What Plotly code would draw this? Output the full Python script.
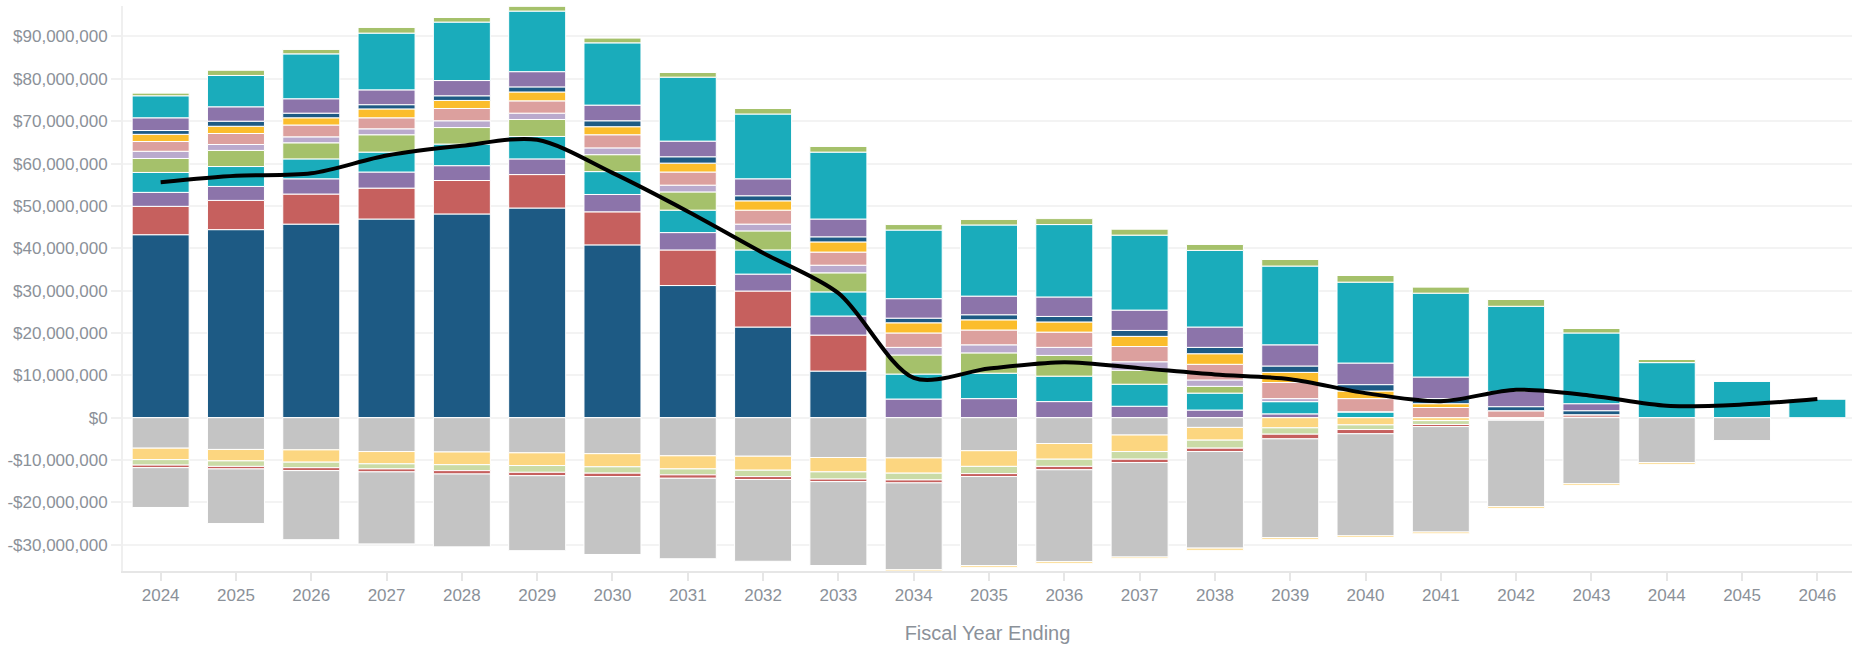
import plotly.graph_objects as go

years = [str(y) for y in range(2024, 2047)]

# Positive components ($M), bottom to top
dark_blue_a = [43.2, 44.4, 45.7, 46.9, 48.1, 49.5, 40.8, 31.2, 21.4, 11.0, 0, 0, 0, 0, 0, 0, 0, 0, 0, 0, 0, 0, 0]
red_a = [6.7, 6.9, 7.1, 7.3, 7.9, 7.9, 7.8, 8.4, 8.5, 8.5, 0, 0, 0, 0, 0, 0, 0, 0, 0, 0, 0, 0, 0]
purple_a = [3.3, 3.3, 3.6, 3.8, 3.5, 3.7, 4.1, 4.1, 4.0, 4.5, 4.4, 4.5, 3.8, 2.7, 1.8, 0.9, 0, 0, 0, 0, 0, 0, 0]
teal_a = [4.7, 4.7, 4.7, 4.7, 5.1, 5.3, 5.4, 5.3, 5.7, 5.7, 5.9, 6.0, 6.0, 5.2, 4.0, 2.9, 1.4, 0, 0, 0, 0, 0, 0]
green_a = [3.3, 3.8, 3.8, 4.1, 3.9, 4.0, 4.0, 4.3, 4.5, 4.5, 4.5, 4.8, 4.9, 3.3, 1.6, 0, 0, 0, 0, 0, 0, 0, 0]
lilac_a = [1.7, 1.4, 1.4, 1.4, 1.6, 1.5, 1.6, 1.6, 1.6, 1.8, 1.8, 1.9, 1.9, 2.0, 1.5, 0.7, 0, 0, 0, 0, 0, 0, 0]
pink_a = [2.3, 2.6, 2.8, 2.6, 2.9, 2.9, 3.1, 3.1, 3.3, 3.1, 3.4, 3.5, 3.6, 3.6, 3.7, 3.8, 3.1, 2.4, 1.65, 0.7, 0, 0, 0]
gold_a = [1.7, 1.7, 1.7, 2.1, 1.9, 2.1, 1.9, 2.1, 2.2, 2.4, 2.4, 2.4, 2.4, 2.4, 2.5, 2.4, 1.8, 0.9, 0, 0, 0, 0, 0]
dark_blue_b = [0.9, 1.2, 1.1, 1.0, 1.1, 1.2, 1.4, 1.5, 1.2, 1.2, 1.1, 1.2, 1.3, 1.4, 1.5, 1.5, 1.5, 1.2, 0.95, 0.95, 0, 0, 0]
purple_b = [3.0, 3.4, 3.4, 3.5, 3.6, 3.6, 3.7, 3.7, 4.0, 4.2, 4.6, 4.4, 4.6, 4.8, 4.8, 5.0, 5.1, 5.1, 3.6, 1.65, 0, 0, 0]
teal_b = [5.2, 7.4, 10.6, 13.4, 13.8, 14.3, 14.7, 15.1, 15.3, 15.8, 16.2, 16.8, 17.1, 17.7, 18.1, 18.6, 19.1, 19.8, 20.1, 16.7, 13.0, 8.7, 4.5]
green_b = [0.7, 1.3, 1.1, 1.4, 1.1, 1.2, 1.2, 1.1, 1.3, 1.4, 1.3, 1.3, 1.4, 1.4, 1.4, 1.6, 1.6, 1.5, 1.6, 1.1, 0.8, 0, 0]

# Negative components ($M, magnitudes), from zero downward
grey_a = [7.2, 7.5, 7.6, 8.0, 8.1, 8.3, 8.5, 9.0, 9.1, 9.4, 9.5, 7.8, 6.1, 4.1, 2.3, 0, 0, 0, 0, 0, 0, 0, 0]
cream_a = [2.7, 2.7, 2.9, 2.9, 3.0, 3.0, 3.1, 3.1, 3.3, 3.4, 3.6, 3.7, 3.7, 3.9, 3.0, 2.4, 1.7, 0.7, 0.2, 0, 0, 0, 0]
sage_a = [1.3, 1.3, 1.3, 1.2, 1.4, 1.6, 1.5, 1.4, 1.5, 1.7, 1.6, 1.7, 1.7, 1.8, 1.9, 1.5, 1.1, 0.9, 0.2, 0, 0, 0, 0]
red_neg = [0.6, 0.6, 0.7, 0.7, 0.8, 0.8, 0.8, 0.8, 0.7, 0.6, 0.7, 0.7, 0.8, 0.8, 0.8, 1.1, 1.0, 0.5, 0.2, 0, 0, 0, 0]
grey_b = [9.4, 12.9, 16.3, 17.0, 17.2, 17.7, 18.4, 19.0, 19.3, 19.8, 20.5, 21.0, 21.7, 22.3, 22.8, 23.3, 24.1, 24.9, 20.4, 15.6, 10.6, 5.4, 0]
cream_b = [0, 0, 0, 0, 0, 0, 0, 0, 0, 0, 0.3, 0.4, 0.4, 0.3, 0.5, 0.4, 0.4, 0.4, 0.4, 0.4, 0.4, 0, 0]

# Net line ($M)
net_line = [55.6, 57.1, 57.7, 61.9, 64.2, 65.6, 57.8, 48.7, 38.9, 29.4, 9.4, 11.6, 13.1, 11.7,
            10.2, 9.1, 5.8, 3.9, 6.6, 5.2, 2.8, 3.1, 4.4]

tick_vals_m = [-30, -20, -10, 0, 10, 20, 30, 40, 50, 60, 70, 80, 90]

M = 1_000_000
C_DARK = "#1d5a84"
C_RED = "#c6605e"
C_PURPLE = "#8c74aa"
C_TEAL = "#1aacbb"
C_GREEN = "#a5c16b"
C_LILAC = "#baaacd"
C_PINK = "#dca09e"
C_GOLD = "#fbbd2c"
C_GREY = "#c4c4c4"
C_CREAM = "#fcd680"
C_SAGE = "#cadba6"

positive = [
    ("A", dark_blue_a, C_DARK), ("B", red_a, C_RED), ("C", purple_a, C_PURPLE),
    ("D", teal_a, C_TEAL), ("E", green_a, C_GREEN), ("F", lilac_a, C_LILAC),
    ("G", pink_a, C_PINK), ("H", gold_a, C_GOLD), ("I", dark_blue_b, C_DARK),
    ("J", purple_b, C_PURPLE), ("K", teal_b, C_TEAL), ("L", green_b, C_GREEN),
]
negative = [
    ("N1", grey_a, C_GREY), ("N2", cream_a, C_CREAM), ("N3", sage_a, C_SAGE),
    ("N4", red_neg, C_RED), ("N5", grey_b, C_GREY), ("N6", cream_b, C_CREAM),
]

fig = go.Figure()
for name, vals, col in positive:
    fig.add_trace(go.Bar(x=years, y=[v * M for v in vals], name=name,
                         marker=dict(color=col, line=dict(color="white", width=1))))
for name, vals, col in negative:
    fig.add_trace(go.Bar(x=years, y=[-v * M for v in vals], name=name,
                         marker=dict(color=col, line=dict(color="white", width=1))))

fig.add_trace(go.Scatter(x=years, y=[v * M for v in net_line], mode="lines",
                         line=dict(color="black", width=4, shape="spline", smoothing=0.85),
                         name="Net"))

def fmt(v):
    s = f"${abs(v) * M:,.0f}"
    return "-" + s if v < 0 else s

font_fam = "Liberation Sans, Arial, Helvetica, sans-serif"
txt_col = "#8b9199"

fig.update_layout(
    width=1852, height=645,
    barmode="relative", bargap=0.243,
    showlegend=False,
    plot_bgcolor="white", paper_bgcolor="white",
    margin=dict(l=123, r=0, t=6, b=74),
    font=dict(family=font_fam, color=txt_col, size=17),
    xaxis=dict(
        type="category", range=[-0.5, 22.46],
        showline=True, linecolor="#e6e6e6", linewidth=2,
        ticks="outside", ticklen=8, tickwidth=2, tickcolor="#e6e6e6",
        showgrid=False,
        tickfont=dict(size=17, color=txt_col),
        title=dict(text="Fiscal Year Ending", font=dict(size=20, color=txt_col), standoff=22),
    ),
    yaxis=dict(
        range=[-36.2 * M, 97.2 * M],
        tickvals=[v * M for v in tick_vals_m],
        ticktext=[fmt(v) for v in tick_vals_m],
        showline=True, linecolor="#efefef", linewidth=2,
        ticks="outside", ticklen=10, tickwidth=2, tickcolor="#f0f0f0",
        showgrid=True, gridcolor="#f3f3f3", gridwidth=2,
        zeroline=False,
        tickfont=dict(size=17, color=txt_col),
    ),
)

fig.write_html("out.html", config={"displayModeBar": False},
               post_script="document.body.style.margin='0';document.body.style.overflow='hidden';")
